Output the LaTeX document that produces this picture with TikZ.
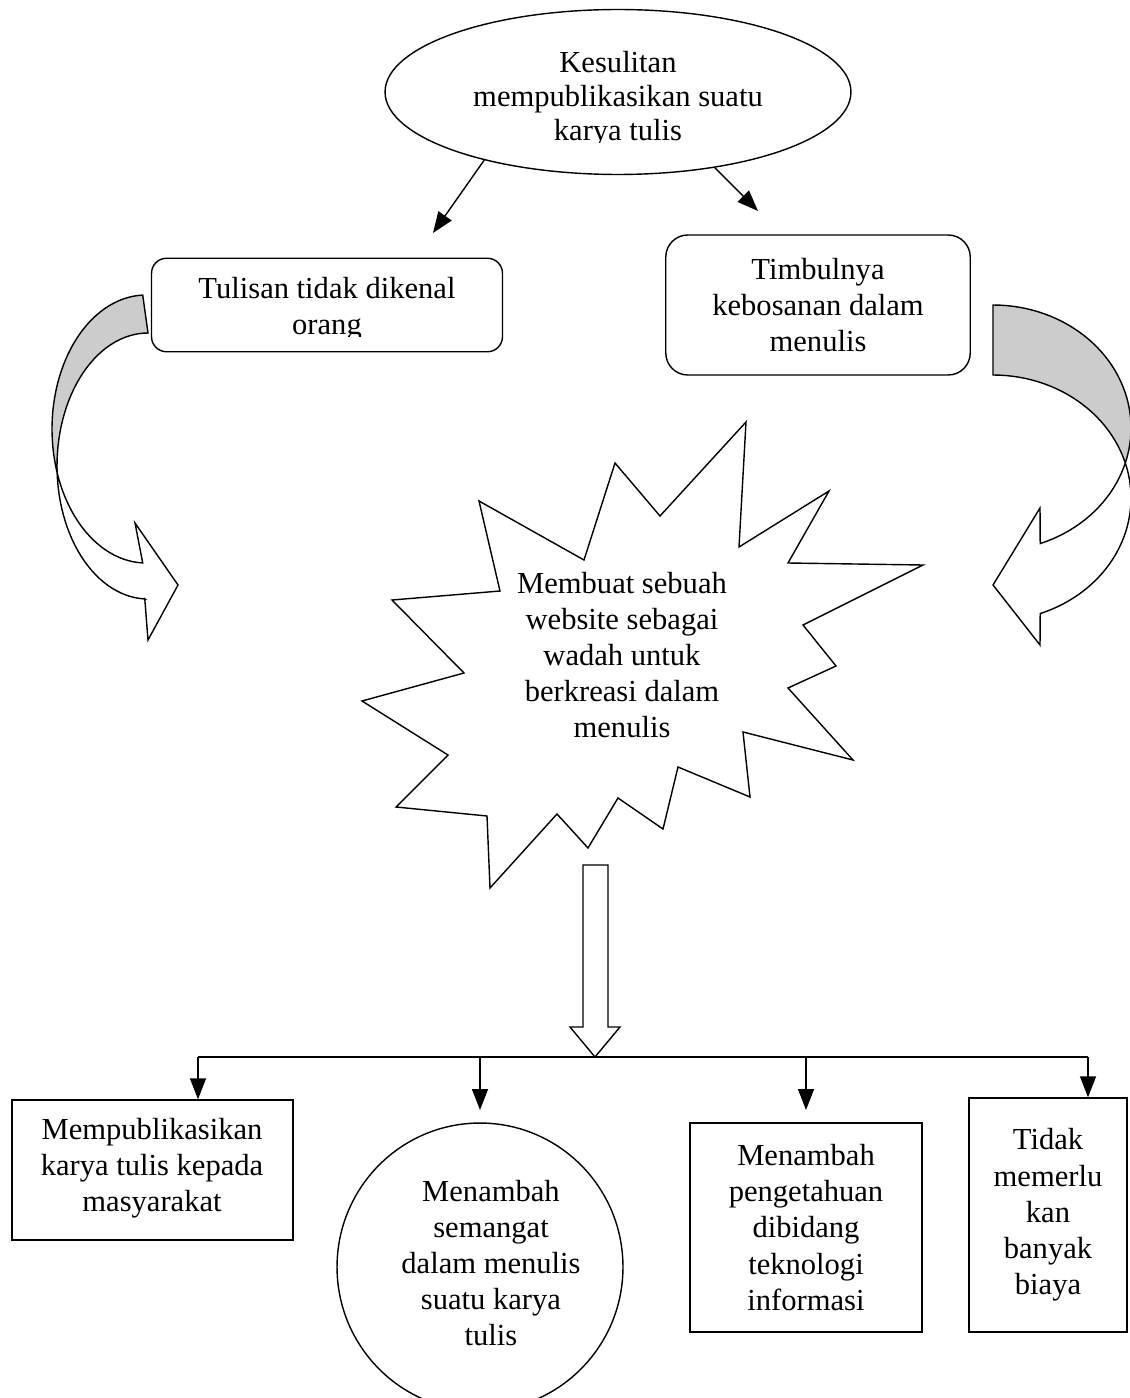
\documentclass[tikz,border=0pt]{standalone}
\usepackage{fontspec}
\setmainfont{Liberation Serif}
\usetikzlibrary{arrows.meta,shapes.geometric}
\newcommand{\huruf}{\fontsize{17.4pt}{20.6pt}\selectfont}
\newcommand{\panahKiri}{plot[domain=92:268,samples=60] ({146+94*cos(\x)},{429-134*sin(\x)})
  -- (135,523) -- (178,585) -- (148,640) -- (144.8,598.9)
  -- plot[domain=268:90,samples=60] ({148+91*cos(\x)},{466-133*sin(\x)}) -- cycle}
\newcommand{\panahKanan}{plot[domain=90:-70,samples=60] ({993+138*cos(\x)},{428-123*sin(\x)})
  -- (1040,508) -- (993,585) -- (1040,645) -- (1040.2,613.6)
  -- plot[domain=-70:90,samples=60] ({993+138*cos(\x)},{498-123*sin(\x)}) -- cycle}

\begin{document}
\begin{tikzpicture}[x=0.02cm,y=-0.02cm,line width=0.8pt]
      \tikzstyle{teks}=[align=center,inner sep=0pt,font=\huruf]
      \tikzstyle{kotak}=[draw,inner sep=0pt]
      \tikzstyle{panah}=[-{Triangle[length=0.42cm,width=0.32cm]}]
      \useasboundingbox (0,0) rectangle (1129,1398);

      \node[kotak,ellipse,minimum width=9.32cm,minimum height=3.3cm] (kesulitan) at (618,92) {};
      \begin{scope}
        \clip (380,0) rectangle (860,143);
        \node[teks,font=\fontsize{17.4pt}{19.4pt}\selectfont] (kesulitanTeks) at (618,99)
          {Kesulitan\\mempublikasikan suatu\\karya tulis};
      \end{scope}

      \node[kotak,rounded corners=0.3cm,minimum width=7.02cm,minimum height=1.87cm] (tulisan) at (327,305) {};
      \begin{scope}
        \clip (150,250) rectangle (505,337);
        \node[teks] (tulisanTeks) at (327,309) {Tulisan tidak dikenal\\orang};
      \end{scope}
      \node[kotak,rounded corners=0.44cm,minimum width=6.09cm,minimum height=2.8cm,teks] (bosan) at (818,305)
        {Timbulnya\\kebosanan dalam\\menulis};

      \coordinate (ujungKiri) at (433,233);
      \coordinate (ujungKanan) at (758,211);
      \draw[panah] (kesulitan.207) -- (ujungKiri);
      \draw[panah] (kesulitan.322) -- (ujungKanan);

      \begin{scope}
        \clip (0,280) rectangle (200,471);
        \fill[black!20] \panahKiri;
      \end{scope}
      \draw \panahKiri;
      \begin{scope}
        \clip (980,290) rectangle (1140,463);
        \fill[black!20] \panahKanan;
      \end{scope}
      \draw \panahKanan;

      \draw (479,501) -- (584,560) -- (615,463) -- (660,516) -- (746,422) -- (739,547)
        -- (829,491) -- (788,563) -- (923,565) -- (803,625) -- (836,666) -- (788,688)
        -- (853,760) -- (743,732) -- (750,797) -- (678,767) -- (663,829) -- (618,798)
        -- (588,848) -- (557,814) -- (490,888) -- (487,816) -- (396,807) -- (448,755)
        -- (362,701) -- (464,673) -- (392,600) -- (500,591) -- cycle;
      \node[teks] (website) at (622,655)
        {Membuat sebuah\\website sebagai\\wadah untuk\\berkreasi dalam\\menulis};

      \draw (583,865) -- (608,865) -- (608,1027) -- (620,1027) -- (595,1057)
        -- (570,1027) -- (583,1027) -- cycle;

      \node[kotak,minimum width=5.62cm,minimum height=2.8cm] (publikasi) at (152.5,1170) {};
      \node[teks] (publikasiTeks) at (152,1168) {Mempublikasikan\\karya tulis kepada\\masyarakat};
      \node[kotak,ellipse,minimum width=5.72cm,minimum height=5.76cm] (semangat) at (480,1267) {};
      \node[teks] (semangatTeks) at (491,1263) {Menambah\\semangat\\dalam menulis\\suatu karya\\tulis};
      \node[kotak,minimum width=4.64cm,minimum height=4.18cm,teks] (teknologi) at (806,1227.5)
        {Menambah\\pengetahuan\\dibidang\\teknologi\\informasi};
      \node[kotak,minimum width=3.16cm,minimum height=4.68cm,teks] (biaya) at (1048,1215)
        {Tidak\\memerlu\\kan\\banyak\\biaya};

      \coordinate (cabang1) at (198,1057);
      \coordinate (cabang2) at (480,1057);
      \coordinate (cabang3) at (806,1057);
      \coordinate (cabang4) at (1088,1057);
      \draw (cabang1) -- (cabang4);
      \draw[panah] (cabang1) -- (cabang1 |- publikasi.north);
      \draw[panah] (cabang2) -- ++(0,53);
      \draw[panah] (cabang3) -- ++(0,53);
      \draw[panah] (cabang4) -- (cabang4 |- biaya.north);
\end{tikzpicture}
\end{document}
